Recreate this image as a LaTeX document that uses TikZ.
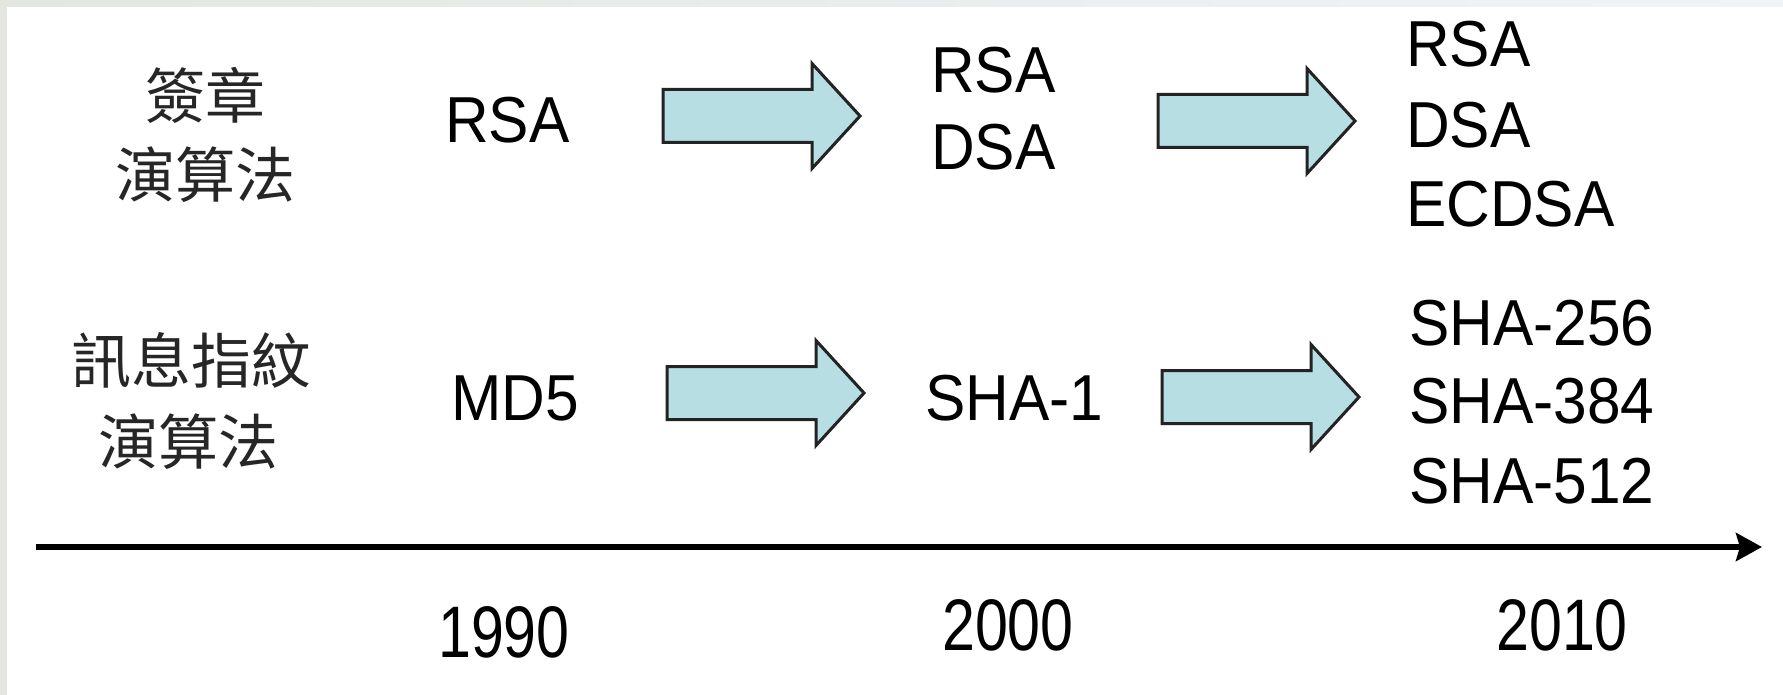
\documentclass[tikz,border=0pt]{standalone}
\usepackage{fontspec}
\setmainfont{Liberation Sans}
\newfontfamily\latf[FakeStretch=0.93]{Liberation Sans}
\newfontfamily\yearf[FakeStretch=0.81]{Liberation Sans}
\newfontfamily\cjkf{Noto Sans CJK TC}
\usetikzlibrary{arrows.meta}
\definecolor{arrowfill}{RGB}{183,222,226}
\definecolor{arrowline}{RGB}{35,35,35}
\definecolor{frameA}{RGB}{228,230,226}
\definecolor{frameB}{RGB}{240,244,247}
\begin{document}
\begin{tikzpicture}[x=1pt,y=-1pt,
  lat/.style={inner sep=0pt, anchor=base west, font=\latf\fontsize{65}{80}\selectfont},
  yr/.style={inner sep=0pt, font=\yearf\fontsize{73}{88}\selectfont},
  cjk/.style={inner sep=0pt, text=black!85, font=\cjkf\fontsize{60}{80}\selectfont},
  blockarrow/.pic={\draw[fill=arrowfill, draw=arrowline, line width=3pt, line join=miter]
     (0,-26.5) -- (149,-26.5) -- (149,-52.5) -- (197,0) -- (149,52.5) -- (149,26.5) -- (0,26.5) -- cycle;},
  axisline/.style={line width=6pt, -{Stealth[length=26pt,width=28pt,inset=4pt]}}]
\useasboundingbox (0,0) rectangle (1783,695);
\fill[white] (0,0) rectangle (1783,695);
\fill[frameA] (0,0) rectangle (7,695);
\shade[left color=frameA, right color=frameB] (0,0) rectangle (1783,7);

% row labels
\node[cjk] (sigA) at (205,95) {簽章};
\node[cjk] (sigB) at (205,175) {演算法};
\node[cjk] (hashA) at (191,360) {訊息指紋};
\node[cjk] (hashB) at (188,442) {演算法};

% 1990 column
\node[lat] (rsa1) at (445,143) {RSA};
\node[lat] (md5) at (451,420) {MD5};

% 2000 column
\node[lat] (rsa2) at (931,93) {RSA};
\node[lat] (dsa2) at (931,170) {DSA};
\node[lat] (sha1) at (925,420) {SHA-1};

% 2010 column
\node[lat] (rsa3) at (1406,67) {RSA};
\node[lat] (dsa3) at (1406,148) {DSA};
\node[lat] (ecdsa3) at (1406,227) {ECDSA};
\node[lat] (sha256) at (1409,345) {SHA-256};
\node[lat] (sha384) at (1409,423) {SHA-384};
\node[lat] (sha512) at (1409,503) {SHA-512};

% block arrows
\pic (arA) at (663,116) {blockarrow};
\pic (arB) at (1158,121) {blockarrow};
\pic (arC) at (667,393) {blockarrow};
\pic (arD) at (1162,397) {blockarrow};

% time axis
\coordinate (axs) at (36,547);
\coordinate (axe) at (1762,547);
\draw[axisline] (axs) -- (axe);

% years
\node[yr] (y1990) at (504,632.5) {1990};
\node[yr] (y2000) at (1008,625) {2000};
\node[yr] (y2010) at (1562,625) {2010};
\end{tikzpicture}
\end{document}
